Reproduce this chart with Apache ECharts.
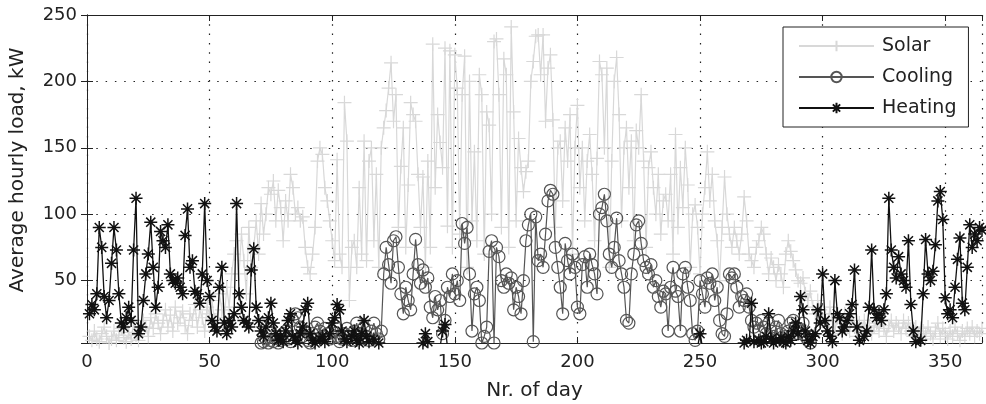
<!DOCTYPE html>
<html>
<head>
<meta charset="utf-8">
<script src="https://cdn.jsdelivr.net/npm/echarts@6/dist/echarts.min.js"></script>
<style>
  html, body { margin: 0; padding: 0; background: #fff; }
  #main { width: 986px; height: 404px; }
</style>
</head>
<body>
<div id="main"></div>
<script>
// daily values, day 1 .. 365
const seriesNames = ['Solar', 'Cooling', 'Heating'];
const firstDay = 1;

const solar = [
  8, 5, 12, 6, 4, 10, 15, 8, 3, 6,
  12, 5, 9, 14, 7, 4, 11, 6, 18, 9,
  5, 12, 20, 15, 8, 22, 14, 25, 18, 10,
  20, 28, 15, 24, 12, 30, 18, 22, 27, 16,
  10, 25, 20, 32, 15, 28, 22, 12, 30, 25,
  35, 20, 15, 40, 28, 22, 45, 30, 55, 70,
  80, 55, 85, 65, 40, 90, 60, 75, 95, 70,
  108, 85, 100, 120, 115, 125, 95, 118, 105, 80,
  110, 95, 130, 120, 100, 105, 95, 98, 75, 60,
  55, 70, 90, 140, 150, 145, 120, 110, 95, 80,
  65, 141, 70, 60, 184, 155, 35, 75, 80, 60,
  120, 70, 155, 65, 140, 150, 80, 130, 60, 150,
  165, 178, 195, 214, 170, 190, 90, 136, 165, 75,
  122, 184, 175, 170, 130, 90, 128, 60, 140, 75,
  228, 120, 175, 154, 135, 225, 91, 223, 75, 220,
  195, 85, 190, 219, 60, 200, 95, 147, 80, 205,
  190, 70, 177, 167, 100, 230, 232, 190, 90, 217,
  205, 75, 241, 177, 95, 157, 135, 117, 132, 140,
  200, 215, 234, 235, 205, 235, 170, 210, 220, 171,
  90, 150, 155, 110, 165, 140, 175, 70, 150, 182,
  120, 150, 95, 140, 160, 130, 80, 142, 215, 205,
  150, 210, 60, 140, 200, 218, 175, 95, 150, 165,
  120, 155, 80, 163, 150, 190, 140, 75, 135, 147,
  120, 100, 130, 85, 110, 115, 95, 130, 70, 160,
  90, 135, 105, 150, 122, 60, 100, 107, 90, 55,
  100, 120, 147, 110, 130, 95, 80, 50, 90, 128,
  100, 85, 75, 90, 80, 70, 85, 113, 95, 70,
  65, 60, 75, 80, 90, 85, 70, 55, 67, 60,
  50, 62, 55, 45, 70, 80, 72, 65, 58, 50,
  48, 52, 40, 35, 42, 30, 25, 35, 28, 20,
  25, 15, 30, 20, 12, 22, 18, 10, 25, 15,
  12, 20, 15, 8, 18, 14, 20, 12, 16, 10,
  15, 18, 12, 20, 14, 8, 16, 20, 12, 18,
  15, 10, 20, 14, 18, 12, 8, 15, 10, 14,
  12, 8, 15, 10, 6, 12, 18, 8, 14, 10,
  6, 12, 8, 15, 10, 5, 12, 8, 14, 10,
  15, 8, 12, 10, 14
];

const cooling = [
  0, 0, 0, 0, 0, 0, 0, 0, 0, 0,
  0, 0, 0, 0, 0, 0, 0, 0, 0, 0,
  0, 0, 0, 0, 0, 0, 0, 0, 0, 0,
  0, 0, 0, 0, 0, 0, 0, 0, 0, 0,
  0, 0, 0, 0, 0, 0, 0, 0, 0, 0,
  0, 0, 0, 0, 0, 0, 0, 0, 0, 0,
  0, 0, 0, 0, 0, 0, 0, 0, 0, 0,
  3, 4, 6, 3, 5, 4, 8, 3, 5, 10,
  12, 6, 4, 20, 25, 22, 15, 8, 12, 5,
  3, 10, 15, 18, 12, 8, 14, 10, 6, 12,
  16, 8, 4, 6, 10, 14, 8, 5, 12, 18,
  10, 6, 15, 8, 5, 12, 18, 10, 6, 12,
  55, 75, 62, 48, 80, 83, 60, 40, 25, 45,
  35, 28, 55, 81, 62, 48, 58, 45, 52, 30,
  22, 38, 28, 35, 10, 20, 45, 38, 55, 40,
  50, 35, 93, 78, 90, 55, 12, 40, 45, 35,
  3, 8, 15, 72, 80, 3, 75, 68, 50, 45,
  55, 48, 52, 28, 45, 38, 25, 50, 80, 92,
  100, 4, 98, 65, 70, 60, 85, 110, 118, 115,
  75, 60, 45, 25, 78, 65, 55, 70, 60, 30,
  25, 62, 68, 45, 70, 62, 55, 40, 100, 105,
  115, 95, 70, 60, 75, 97, 65, 55, 45, 20,
  18, 55, 70, 92, 95, 78, 65, 60, 55, 62,
  45, 50, 38, 30, 42, 40, 12, 45, 60, 42,
  38, 12, 55, 60, 45, 35, 10, 5, 12, 50,
  40, 30, 52, 48, 55, 35, 45, 20, 10, 8,
  25, 55, 52, 55, 45, 30, 38, 35, 40, 30,
  20, 15, 18, 12, 20, 15, 10, 18, 12, 8,
  15, 20, 10, 5, 8, 12, 18, 20, 15, 10,
  12, 18, 8, 5, 3, 0, 0, 0, 0, 0,
  0, 0, 0, 0, 0, 0, 0, 0, 0, 0,
  0, 0, 0, 0, 0, 0, 0, 0, 0, 0,
  0, 0, 0, 0, 0, 0, 0, 0, 0, 0,
  0, 0, 0, 0, 0, 0, 0, 0, 0, 0,
  0, 0, 0, 0, 0, 0, 0, 0, 0, 0,
  0, 0, 0, 0, 0, 0, 0, 0, 0, 0,
  0, 0, 0, 0, 0
];

const heating = [
  25, 32, 28, 40, 90, 75, 38, 22, 35, 63,
  90, 73, 40, 18, 15, 22, 30, 20, 73, 112,
  10, 15, 35, 55, 70, 94, 60, 30, 45, 87,
  80, 75, 92, 55, 50, 48, 52, 45, 40, 84,
  104, 60, 65, 42, 40, 33, 55, 108, 50, 38,
  20, 15, 12, 45, 60, 18, 10, 20, 15, 25,
  108, 40, 30, 20, 18, 15, 58, 74, 30, 20,
  12, 8, 15, 22, 33, 18, 10, 5, 8, 4,
  12, 20, 25, 8, 5, 3, 10, 15, 28, 33,
  10, 5, 3, 2, 6, 8, 4, 2, 10, 18,
  22, 32, 28, 12, 6, 4, 2, 8, 12, 5,
  3, 10, 20, 8, 4, 2, 6, 1, 3, 2,
  0, 0, 0, 0, 0, 0, 0, 0, 0, 0,
  0, 0, 0, 0, 0, 0, 3, 10, 4, 0,
  0, 0, 0, 0, 12, 17, 0, 0, 0, 0,
  0, 0, 0, 0, 0, 0, 0, 0, 0, 0,
  0, 0, 0, 0, 0, 0, 0, 0, 0, 0,
  0, 0, 0, 0, 0, 0, 0, 0, 0, 0,
  0, 0, 0, 0, 0, 0, 0, 0, 0, 0,
  0, 0, 0, 0, 0, 0, 0, 0, 0, 0,
  0, 0, 0, 0, 0, 0, 0, 0, 0, 0,
  0, 0, 0, 0, 0, 0, 0, 0, 0, 0,
  0, 0, 0, 0, 0, 0, 0, 0, 0, 0,
  0, 0, 0, 0, 0, 0, 0, 0, 0, 0,
  0, 0, 0, 0, 0, 0, 0, 0, 0, 10,
  0, 0, 0, 0, 0, 0, 0, 0, 0, 0,
  0, 0, 0, 0, 0, 0, 0, 3, 5, 2,
  33, 4, 2, 5, 3, 4, 8, 25, 6, 3,
  5, 2, 7, 4, 3, 8, 5, 12, 18, 10,
  38, 28, 12, 5, 3, 8, 10, 28, 18, 55,
  20, 12, 8, 4, 50, 25, 22, 12, 15, 20,
  25, 32, 58, 15, 5, 2, 8, 12, 30, 73,
  28, 22, 25, 20, 28, 40, 112, 73, 60, 52,
  68, 55, 50, 45, 80, 32, 12, 4, 2, 5,
  40, 81, 55, 50, 57, 77, 110, 117, 96, 37,
  25, 28, 22, 45, 66, 82, 33, 28, 60, 92,
  75, 85, 80, 90, 88
];

const fontFamily = 'DejaVu Sans';
const ink = '#222';

function pairs(values) {
  return values.map((v, i) => [firstDay + i, v]);
}

// matlab style markers
const plusMark = 'path://M0,5L10,5M5,0L5,10';
const starMark = 'path://M5,0L5,10M0,5L10,5M1.5,1.5L8.5,8.5M8.5,1.5L1.5,8.5';

const chart = echarts.init(document.getElementById('main'), null, { renderer: 'canvas' });

const gridDots = { color: ink, width: 1.2, type: [1.5, 7.8] };

const option = {
  animation: false,
  backgroundColor: '#fff',
  grid: { left: 87, right: 4, top: 15, bottom: 61, outerBoundsMode: 'none' },
  legend: {
    orient: 'vertical',
    left: 783,
    top: 27,
    data: seriesNames,
    selectedMode: false,
    itemWidth: 75,
    itemHeight: 13,
    itemGap: 11,
    padding: [9, 12, 9, 15],
    borderColor: ink,
    borderWidth: 1,
    backgroundColor: '#fff',
    textStyle: { fontSize: 19, fontFamily: fontFamily, color: ink, lineHeight: 20, padding: [0, 0, 0, 3] }
  },
  xAxis: [{
    type: 'value',
    min: 0,
    max: 365,
    interval: 50,
    name: 'Nr. of day',
    nameLocation: 'middle',
    nameGap: 38,
    nameTextStyle: { fontSize: 20, fontFamily: fontFamily, color: ink },
    axisLine: { show: true, lineStyle: { color: ink, width: 1 } },
    axisTick: { inside: true, length: 6, lineStyle: { color: ink } },
    axisLabel: {
      formatter: v => (v % 50 === 0 ? String(v) : ''),
      fontSize: 18, fontFamily: fontFamily, color: ink, margin: 10
    },
    splitLine: { show: true, lineStyle: gridDots }
  }, {
    type: 'value',
    position: 'top',
    min: 0,
    max: 365,
    interval: 50,
    axisLine: { show: true, lineStyle: { color: ink, width: 1 } },
    axisTick: { inside: true, length: 6, lineStyle: { color: ink } },
    axisLabel: { show: false },
    splitLine: { show: false }
  }],
  yAxis: [{
    type: 'value',
    min: 3,
    max: 250,
    splitNumber: 5,
    name: 'Average hourly load, kW',
    nameLocation: 'middle',
    nameGap: 59,
    nameTextStyle: { fontSize: 20, fontFamily: fontFamily, color: ink, padding: [0, 0, 0, 18] },
    axisLine: { show: true, lineStyle: { color: ink, width: 1 } },
    axisTick: { inside: true, length: 6, lineStyle: { color: ink } },
    axisLabel: {
      formatter: v => (v % 50 === 0 ? String(v) : ''),
      fontSize: 18, fontFamily: fontFamily, color: ink, margin: 10
    },
    splitLine: { show: true, lineStyle: gridDots }
  }, {
    type: 'value',
    position: 'right',
    min: 3,
    max: 250,
    splitNumber: 5,
    axisLine: { show: true, lineStyle: { color: ink, width: 1 } },
    axisTick: { inside: true, length: 6, lineStyle: { color: ink } },
    axisLabel: { show: false },
    splitLine: { show: false }
  }],
  series: [{
    name: 'Solar',
    type: 'line',
    data: pairs(solar),
    symbol: plusMark,
    symbolSize: 14,
    lineStyle: { color: '#d8d8d8', width: 1.2 },
    itemStyle: { color: '#d8d8d8', borderColor: '#d8d8d8', borderWidth: 1.2 },
    z: 2
  }, {
    name: 'Cooling',
    type: 'line',
    data: pairs(cooling),
    symbol: 'circle',
    symbolSize: 12,
    lineStyle: { color: '#555', width: 1.2 },
    itemStyle: { color: 'rgba(0,0,0,0)', borderColor: '#555', borderWidth: 1.2 },
    z: 3
  }, {
    name: 'Heating',
    type: 'line',
    data: pairs(heating),
    symbol: starMark,
    symbolSize: 13,
    lineStyle: { color: '#111', width: 1.3 },
    itemStyle: { color: '#111', borderColor: '#111', borderWidth: 1.5 },
    z: 4
  }]
};

chart.setOption(option);
</script>
</body>
</html>
